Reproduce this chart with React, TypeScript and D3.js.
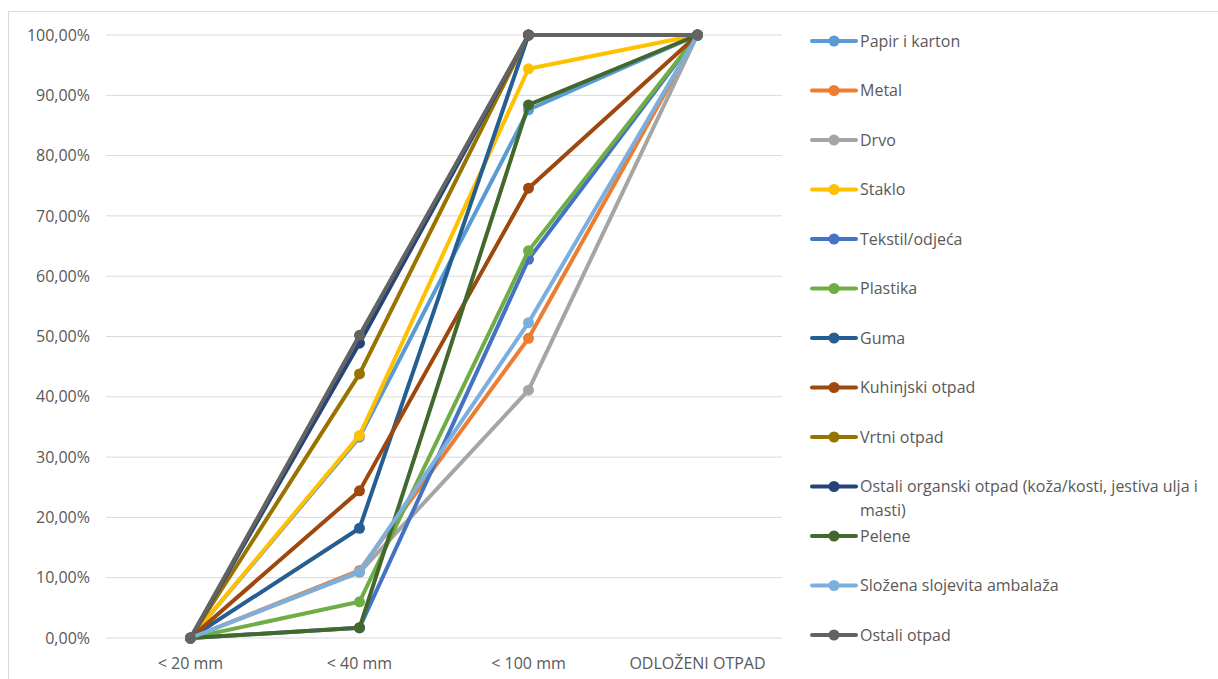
import React from "react";
import * as d3 from "d3";

const categories = ["< 20 mm", "< 40 mm", "< 100 mm", "ODLOŽENI OTPAD"];
const seriesNames = [
  "Papir i karton",
  "Metal",
  "Drvo",
  "Staklo",
  "Tekstil/odjeća",
  "Plastika",
  "Guma",
  "Kuhinjski otpad",
  "Vrtni otpad",
  "Ostali organski otpad (koža/kosti, jestiva ulja i masti)",
  "Pelene",
  "Složena slojevita ambalaža",
  "Ostali otpad",
];
const seriesColors = [
  "#5B9BD5", "#ED7D31", "#A5A5A5", "#FFC000", "#4472C4", "#70AD47",
  "#255E91", "#9E480E", "#997300", "#264478", "#43682B", "#7CAFDD", "#636363",
];
const papir = [0, 33.3, 87.6, 100];
const metal = [0, 11.2, 49.7, 100];
const drvo = [0, 10.9, 41.1, 100];
const staklo = [0, 33.6, 94.4, 100];
const tekstil = [0, 1.7, 62.8, 100];
const plastika = [0, 6.0, 64.2, 100];
const guma = [0, 18.2, 100, 100];
const kuhinjski = [0, 24.4, 74.6, 100];
const vrtni = [0, 43.8, 100, 100];
const ostaliOrganski = [0, 48.9, 100, 100];
const pelene = [0, 1.7, 88.4, 100];
const slozena = [0, 11.0, 52.3, 100];
const ostali = [0, 50.2, 100, 100];
const seriesValues = [
  papir, metal, drvo, staklo, tekstil, plastika, guma, kuhinjski, vrtni,
  ostaliOrganski, pelene, slozena, ostali,
];
const yTicks = [0, 10, 20, 30, 40, 50, 60, 70, 80, 90, 100];

const FONT = "Open Sans, Noto Sans, sans-serif";
const TEXT = "#595959";
const FS = 16;

function wrap(text: string, maxW: number, font: string): string[] {
  const c = document.createElement("canvas").getContext("2d");
  if (!c) return [text];
  c.font = font;
  const words = text.split(" ");
  const lines: string[] = [];
  let cur = "";
  for (const w of words) {
    const t = cur ? cur + " " + w : w;
    if (c.measureText(t).width > maxW && cur) {
      lines.push(cur);
      cur = w;
    } else cur = t;
  }
  if (cur) lines.push(cur);
  return lines;
}

export default function App() {
  const W = 1218;
  const H = 679;
  const x = d3.scaleBand<string>().domain(categories).range([106, 782]);
  const y = d3.scaleLinear().domain([0, 100]).range([638, 35]);
  const line = d3
    .line<number>()
    .x((_, i) => (x(categories[i]) as number) + x.bandwidth() / 2)
    .y((d) => y(d));
  const fmt = (v: number) => v.toFixed(2).replace(".", ",") + "%";
  const legY = d3.scaleLinear().domain([0, seriesNames.length - 1]).range([41, 635]);
  const legFont = `${FS}px ${FONT}`;

  return (
    <svg width={W} height={H} style={{ position: "absolute", left: 0, top: 0, background: "#fff" }}>
      <rect x={8.5} y={11.5} width={W + 10} height={H + 10} fill="#fff" stroke="#d9d9d9" strokeWidth={1} />
      {yTicks.map((t) => (
        <g key={t}>
          <line x1={106} x2={782} y1={y(t)} y2={y(t)} stroke="#d9d9d9" strokeWidth={1} />
          <text x={90} y={y(t)} dy="0.35em" textAnchor="end" fontFamily={FONT} fontSize={FS} fill={TEXT}>
            {fmt(t)}
          </text>
        </g>
      ))}
      {categories.map((c) => (
        <text key={c} x={(x(c) as number) + x.bandwidth() / 2} y={663} dy="0.35em" textAnchor="middle"
          fontFamily={FONT} fontSize={FS} fill={TEXT}>
          {c}
        </text>
      ))}
      {seriesValues.map((vals, si) => (
        <g key={si}>
          <path d={line(vals) || ""} fill="none" stroke={seriesColors[si]} strokeWidth={4} strokeLinejoin="round" />
          {vals.map((v, i) => (
            <circle key={i} cx={(x(categories[i]) as number) + x.bandwidth() / 2} cy={y(v)} r={5.5} fill={seriesColors[si]} />
          ))}
        </g>
      ))}
      {seriesNames.map((n, i) => {
        const ly = legY(i);
        const lines = wrap(n, 356, legFont);
        return (
          <g key={n}>
            <line x1={812} x2={856} y1={ly} y2={ly} stroke={seriesColors[i]} strokeWidth={4} strokeLinecap="round" />
            <circle cx={834} cy={ly} r={5.5} fill={seriesColors[i]} />
            <text x={860} y={ly} fontFamily={FONT} fontSize={FS} fill={TEXT}>
              {lines.map((l, k) => (
                <tspan key={k} x={860} dy={k === 0 ? "0.35em" : 24}>
                  {l}
                </tspan>
              ))}
            </text>
          </g>
        );
      })}
    </svg>
  );
}
